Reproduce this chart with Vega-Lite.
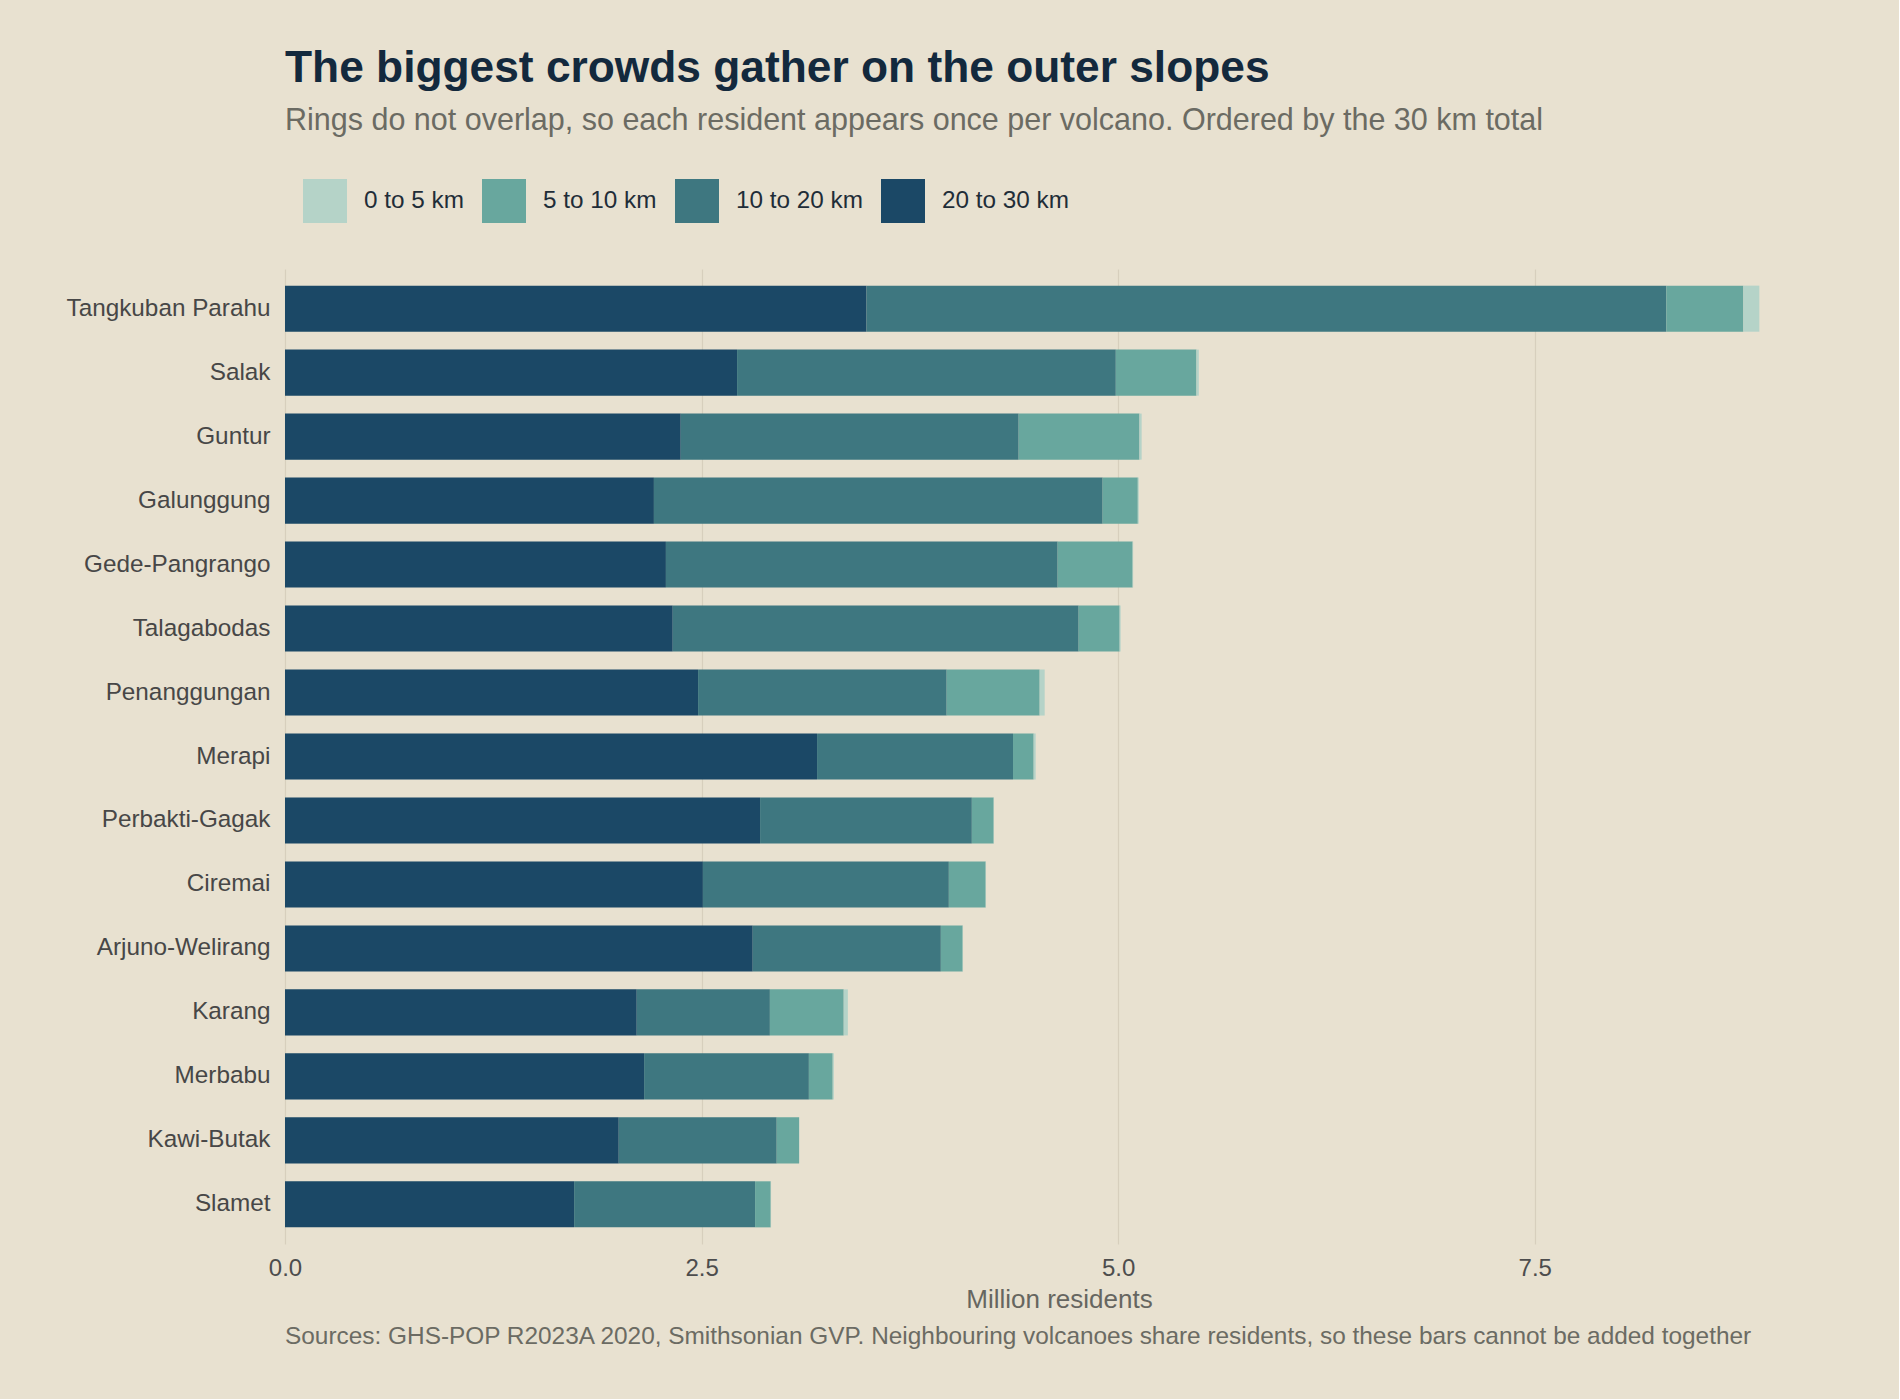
{
  "$schema": "https://vega.github.io/schema/vega-lite/v6.json",
  "background": "#e8e1d0",
  "padding": {"left": 66, "top": 47, "right": 66, "bottom": 51},
  "config": {
    "font": "Liberation Sans",
    "view": {"stroke": null}
  },
  "title": {
    "text": "The biggest crowds gather on the outer slopes",
    "subtitle": "Rings do not overlap, so each resident appears once per volcano. Ordered by the 30 km total",
    "anchor": "start",
    "dx": 219,
    "fontSize": 44.3,
    "fontWeight": "bold",
    "color": "#13293d",
    "subtitleFontSize": 30.5,
    "subtitleColor": "#6b6b63",
    "subtitlePadding": 14,
    "offset": 43
  },
  "vconcat": [
    {
      "width": 1548,
      "height": 975,
      "title": {
        "text": "Sources: GHS-POP R2023A 2020, Smithsonian GVP. Neighbouring volcanoes share residents, so these bars cannot be added together",
        "orient": "bottom",
        "anchor": "start",
        "dx": 219,
        "fontSize": 24.4,
        "fontWeight": "normal",
        "color": "#6b6b63",
        "offset": 12.5
      },
      "data": {
        "values": [
          {"volcano": "Tangkuban Parahu", "ring": "20 to 30 km", "inner_km": 20, "residents": 3.490},
          {"volcano": "Tangkuban Parahu", "ring": "10 to 20 km", "inner_km": 10, "residents": 4.800},
          {"volcano": "Tangkuban Parahu", "ring": "5 to 10 km", "inner_km": 5, "residents": 0.462},
          {"volcano": "Tangkuban Parahu", "ring": "0 to 5 km", "inner_km": 0, "residents": 0.096},
          {"volcano": "Salak", "ring": "20 to 30 km", "inner_km": 20, "residents": 2.713},
          {"volcano": "Salak", "ring": "10 to 20 km", "inner_km": 10, "residents": 2.273},
          {"volcano": "Salak", "ring": "5 to 10 km", "inner_km": 5, "residents": 0.484},
          {"volcano": "Salak", "ring": "0 to 5 km", "inner_km": 0, "residents": 0.014},
          {"volcano": "Guntur", "ring": "20 to 30 km", "inner_km": 20, "residents": 2.375},
          {"volcano": "Guntur", "ring": "10 to 20 km", "inner_km": 10, "residents": 2.028},
          {"volcano": "Guntur", "ring": "5 to 10 km", "inner_km": 5, "residents": 0.725},
          {"volcano": "Guntur", "ring": "0 to 5 km", "inner_km": 0, "residents": 0.013},
          {"volcano": "Galunggung", "ring": "20 to 30 km", "inner_km": 20, "residents": 2.214},
          {"volcano": "Galunggung", "ring": "10 to 20 km", "inner_km": 10, "residents": 2.693},
          {"volcano": "Galunggung", "ring": "5 to 10 km", "inner_km": 5, "residents": 0.211},
          {"volcano": "Galunggung", "ring": "0 to 5 km", "inner_km": 0, "residents": 0.006},
          {"volcano": "Gede-Pangrango", "ring": "20 to 30 km", "inner_km": 20, "residents": 2.286},
          {"volcano": "Gede-Pangrango", "ring": "10 to 20 km", "inner_km": 10, "residents": 2.351},
          {"volcano": "Gede-Pangrango", "ring": "5 to 10 km", "inner_km": 5, "residents": 0.450},
          {"volcano": "Gede-Pangrango", "ring": "0 to 5 km", "inner_km": 0, "residents": 0.003},
          {"volcano": "Talagabodas", "ring": "20 to 30 km", "inner_km": 20, "residents": 2.327},
          {"volcano": "Talagabodas", "ring": "10 to 20 km", "inner_km": 10, "residents": 2.436},
          {"volcano": "Talagabodas", "ring": "5 to 10 km", "inner_km": 5, "residents": 0.246},
          {"volcano": "Talagabodas", "ring": "0 to 5 km", "inner_km": 0, "residents": 0.006},
          {"volcano": "Penanggungan", "ring": "20 to 30 km", "inner_km": 20, "residents": 2.479},
          {"volcano": "Penanggungan", "ring": "10 to 20 km", "inner_km": 10, "residents": 1.492},
          {"volcano": "Penanggungan", "ring": "5 to 10 km", "inner_km": 5, "residents": 0.558},
          {"volcano": "Penanggungan", "ring": "0 to 5 km", "inner_km": 0, "residents": 0.030},
          {"volcano": "Merapi", "ring": "20 to 30 km", "inner_km": 20, "residents": 3.193},
          {"volcano": "Merapi", "ring": "10 to 20 km", "inner_km": 10, "residents": 1.176},
          {"volcano": "Merapi", "ring": "5 to 10 km", "inner_km": 5, "residents": 0.124},
          {"volcano": "Merapi", "ring": "0 to 5 km", "inner_km": 0, "residents": 0.012},
          {"volcano": "Perbakti-Gagak", "ring": "20 to 30 km", "inner_km": 20, "residents": 2.851},
          {"volcano": "Perbakti-Gagak", "ring": "10 to 20 km", "inner_km": 10, "residents": 1.271},
          {"volcano": "Perbakti-Gagak", "ring": "5 to 10 km", "inner_km": 5, "residents": 0.131},
          {"volcano": "Perbakti-Gagak", "ring": "0 to 5 km", "inner_km": 0, "residents": 0.002},
          {"volcano": "Ciremai", "ring": "20 to 30 km", "inner_km": 20, "residents": 2.508},
          {"volcano": "Ciremai", "ring": "10 to 20 km", "inner_km": 10, "residents": 1.476},
          {"volcano": "Ciremai", "ring": "5 to 10 km", "inner_km": 5, "residents": 0.221},
          {"volcano": "Ciremai", "ring": "0 to 5 km", "inner_km": 0, "residents": 0.002},
          {"volcano": "Arjuno-Welirang", "ring": "20 to 30 km", "inner_km": 20, "residents": 2.807},
          {"volcano": "Arjuno-Welirang", "ring": "10 to 20 km", "inner_km": 10, "residents": 1.129},
          {"volcano": "Arjuno-Welirang", "ring": "5 to 10 km", "inner_km": 5, "residents": 0.131},
          {"volcano": "Arjuno-Welirang", "ring": "0 to 5 km", "inner_km": 0, "residents": 0.002},
          {"volcano": "Karang", "ring": "20 to 30 km", "inner_km": 20, "residents": 2.111},
          {"volcano": "Karang", "ring": "10 to 20 km", "inner_km": 10, "residents": 0.799},
          {"volcano": "Karang", "ring": "5 to 10 km", "inner_km": 5, "residents": 0.443},
          {"volcano": "Karang", "ring": "0 to 5 km", "inner_km": 0, "residents": 0.025},
          {"volcano": "Merbabu", "ring": "20 to 30 km", "inner_km": 20, "residents": 2.155},
          {"volcano": "Merbabu", "ring": "10 to 20 km", "inner_km": 10, "residents": 0.989},
          {"volcano": "Merbabu", "ring": "5 to 10 km", "inner_km": 5, "residents": 0.143},
          {"volcano": "Merbabu", "ring": "0 to 5 km", "inner_km": 0, "residents": 0.007},
          {"volcano": "Kawi-Butak", "ring": "20 to 30 km", "inner_km": 20, "residents": 2.003},
          {"volcano": "Kawi-Butak", "ring": "10 to 20 km", "inner_km": 10, "residents": 0.948},
          {"volcano": "Kawi-Butak", "ring": "5 to 10 km", "inner_km": 5, "residents": 0.134},
          {"volcano": "Kawi-Butak", "ring": "0 to 5 km", "inner_km": 0, "residents": 0.002},
          {"volcano": "Slamet", "ring": "20 to 30 km", "inner_km": 20, "residents": 1.735},
          {"volcano": "Slamet", "ring": "10 to 20 km", "inner_km": 10, "residents": 1.086},
          {"volcano": "Slamet", "ring": "5 to 10 km", "inner_km": 5, "residents": 0.094},
          {"volcano": "Slamet", "ring": "0 to 5 km", "inner_km": 0, "residents": 0.002}
        ]
      },
      "mark": {"type": "bar"},
      "encoding": {
        "y": {
          "field": "volcano",
          "type": "nominal",
          "sort": {"field": "residents", "op": "sum", "order": "descending"},
          "scale": {"paddingInner": 0.28, "paddingOuter": 0.26},
          "axis": {
            "title": null,
            "domain": false,
            "ticks": false,
            "labelFontSize": 24.3,
            "labelColor": "#474747",
            "labelPadding": 15,
            "labelLimit": 500
          }
        },
        "x": {
          "field": "residents",
          "type": "quantitative",
          "stack": "zero",
          "scale": {"domain": [0, 9.29], "nice": false},
          "axis": {
            "title": "Million residents",
            "values": [0, 2.5, 5, 7.5],
            "format": ".1f",
            "labelFlush": false,
            "domain": false,
            "ticks": false,
            "grid": true,
            "gridColor": "#d7cfbd",
            "gridWidth": 1.2,
            "labelFontSize": 24,
            "labelColor": "#4d4d4d",
            "labelPadding": 12,
            "titleFontSize": 26,
            "titleFontWeight": "normal",
            "titleColor": "#666660",
            "titlePadding": 6
          }
        },
        "order": {"field": "inner_km", "sort": "descending"},
        "color": {
          "field": "ring",
          "type": "nominal",
          "scale": {
            "domain": ["0 to 5 km", "5 to 10 km", "10 to 20 km", "20 to 30 km"],
            "range": ["#b5d3c8", "#68a79e", "#3e7780", "#1b4866"]
          },
          "legend": {
            "title": null,
            "orient": "none",
            "legendX": 18,
            "legendY": -90,
            "direction": "horizontal",
            "symbolType": "square",
            "symbolSize": 1936,
            "symbolStrokeWidth": 0,
            "symbolOpacity": 1,
            "labelFontSize": 24.3,
            "labelColor": "#1f2d38",
            "labelOffset": 17,
            "columnPadding": 18,
            "padding": 0
          }
        }
      }
    }
  ]
}
